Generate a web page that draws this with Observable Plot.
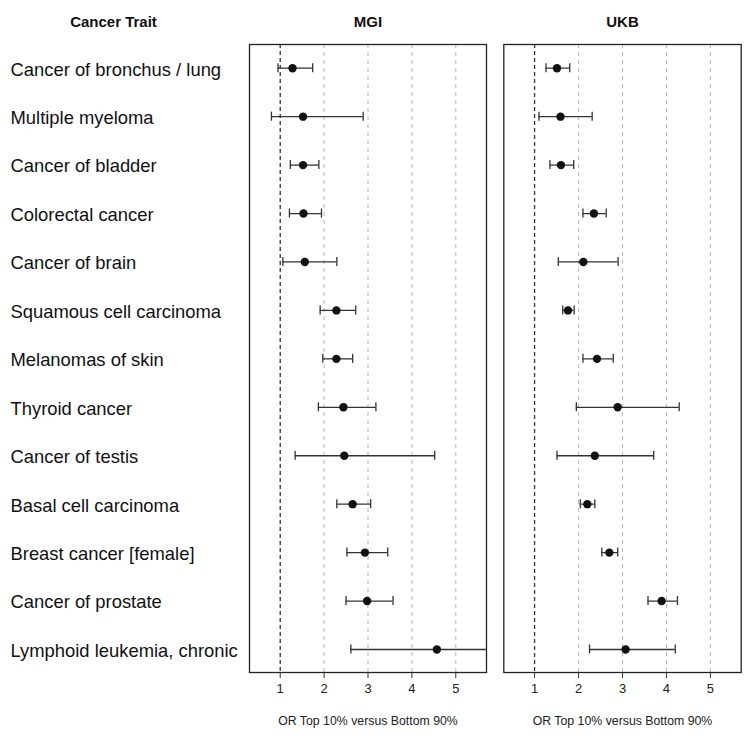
<!DOCTYPE html>
<html>
<head>
<meta charset="utf-8">
<script src="https://cdn.jsdelivr.net/npm/d3@7"></script>
<script src="https://cdn.jsdelivr.net/npm/@observablehq/plot@0.6"></script>
<style>
  html, body { margin: 0; padding: 0; background: #fff; }
  #wrap { display: flex; width: 744px; height: 735px; }
  svg { font-family: "Liberation Sans", Arial, Helvetica, sans-serif; }
</style>
</head>
<body>
<div id="wrap"></div>
<script>
const traits = [
  "Cancer of bronchus / lung",
  "Multiple myeloma",
  "Cancer of bladder",
  "Colorectal cancer",
  "Cancer of brain",
  "Squamous cell carcinoma",
  "Melanomas of skin",
  "Thyroid cancer",
  "Cancer of testis",
  "Basal cell carcinoma",
  "Breast cancer [female]",
  "Cancer of prostate",
  "Lymphoid leukemia, chronic"
];
const mgiOR   = [1.28, 1.52, 1.52, 1.53, 1.56, 2.28, 2.28, 2.44, 2.46, 2.65, 2.93, 2.98, 4.57];
const mgiLow  = [0.95, 0.80, 1.23, 1.21, 1.06, 1.91, 1.97, 1.87, 1.34, 2.29, 2.52, 2.50, 2.61];
const mgiHigh = [1.74, 2.89, 1.88, 1.94, 2.29, 2.72, 2.65, 3.18, 4.52, 3.06, 3.45, 3.57, 8.00];
const ukbOR   = [1.51, 1.59, 1.60, 2.35, 2.11, 1.76, 2.42, 2.89, 2.37, 2.20, 2.70, 3.89, 3.07];
const ukbLow  = [1.26, 1.10, 1.35, 2.10, 1.54, 1.64, 2.10, 1.95, 1.51, 2.04, 2.53, 3.58, 2.25];
const ukbHigh = [1.80, 2.31, 1.89, 2.63, 2.90, 1.90, 2.79, 4.29, 3.71, 2.37, 2.89, 4.25, 4.20];
const xTicks = [1, 2, 3, 4, 5];
const panelTitles = ["MGI", "UKB"];
const leftHeader = "Cancer Trait";
const xLabel = "OR Top 10% versus Bottom 90%";

function rows(or, lo, hi) {
  return traits.map((t, i) => ({trait: t, or: or[i], lo: lo[i], hi: hi[i]}));
}

function panel({data, title, width, marginLeft, marginRight, withLabels}) {
  const marks = [
    Plot.ruleX(xTicks.filter(d => d !== 1), {stroke: "#bdbdbd", strokeWidth: 1.1, strokeDasharray: "4,4"}),
    Plot.ruleX([1], {stroke: "#333", strokeWidth: 1.3, strokeDasharray: "4,3"}),
    Plot.ruleY(data, {y: "trait", x1: "lo", x2: "hi", stroke: "#333", strokeWidth: 1.3, clip: true}),
    Plot.tickX(data, {y: "trait", x: "lo", stroke: "#333", strokeWidth: 1.3, insetTop: 19.7, insetBottom: 19.7, clip: true}),
    Plot.tickX(data.filter(d => d.hi <= 5.7), {y: "trait", x: "hi", stroke: "#333", strokeWidth: 1.3, insetTop: 19.7, insetBottom: 19.7}),
    Plot.dot(data, {y: "trait", x: "or", r: 4.2, fill: "#111", stroke: "none"}),
    Plot.frame({stroke: "#222", strokeWidth: 1.3}),
    Plot.axisX(xTicks, {tickSize: 6, tickFormat: () => "", label: null, stroke: "#333"}),
    Plot.text(xTicks, {x: d => d, text: d => String(d), frameAnchor: "bottom", dy: 20, fontSize: 13, fill: "#222"}),
    Plot.text([title], {frameAnchor: "top", dy: -28, fontSize: 15, fontWeight: "bold", fill: "#111"}),
    Plot.text([xLabel], {frameAnchor: "bottom", dy: 52, fontSize: 12.3, fill: "#222"})
  ];
  if (withLabels) {
    marks.push(
      Plot.text(traits, {y: d => d, text: d => d, frameAnchor: "left", dx: -(marginLeft - 10), dy: 1.5, textAnchor: "start", fontSize: 18.4, fill: "#111"}),
      Plot.text([leftHeader], {frameAnchor: "top-left", dx: 113 - marginLeft, dy: -28, textAnchor: "middle", fontSize: 15, fontWeight: "bold", fill: "#111"})
    );
  }
  return Plot.plot({
    width, height: 735,
    marginLeft, marginRight, marginTop: 44, marginBottom: 63,
    style: {fontFamily: '"Liberation Sans", Arial, Helvetica, sans-serif', background: "#fff"},
    x: {domain: [0.3, 5.7], axis: null},
    y: {type: "band", domain: traits, padding: 0, round: false, range: [43.5, 673.2], axis: null},
    marks
  });
}

const wrap = document.getElementById("wrap");
wrap.append(panel({data: rows(mgiOR, mgiLow, mgiHigh), title: panelTitles[0], width: 494, marginLeft: 249, marginRight: 8, withLabels: true}));
wrap.append(panel({data: rows(ukbOR, ukbLow, ukbHigh), title: panelTitles[1], width: 250, marginLeft: 9.3, marginRight: 3.3, withLabels: false}));
</script>
</body>
</html>
